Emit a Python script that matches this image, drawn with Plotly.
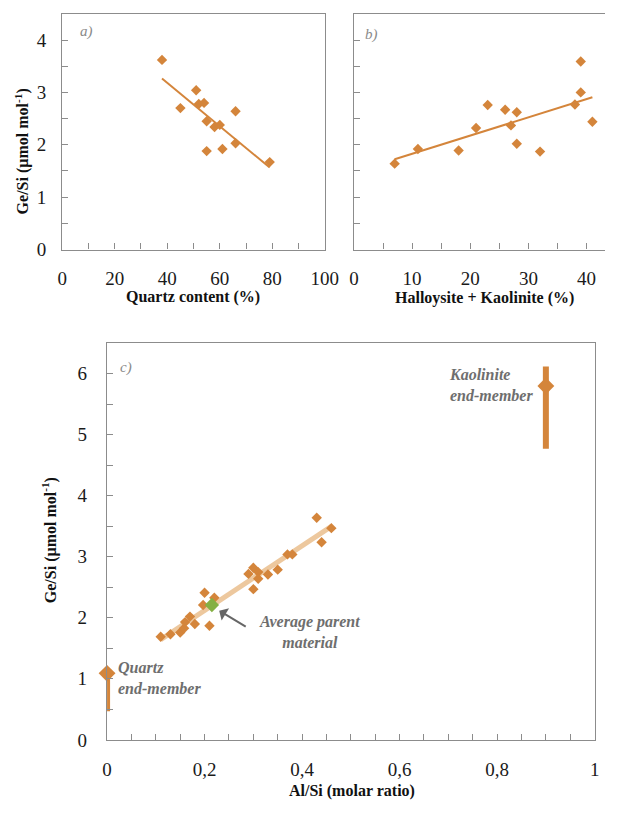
import numpy as np
import plotly.graph_objects as go

# ---------------- data ----------------
quartz_pct = [38, 45, 51, 52, 54, 55, 55, 58, 60, 61, 66, 66, 79]
gesi_a = [3.62, 2.70, 3.04, 2.78, 2.80, 2.45, 1.88, 2.34, 2.38, 1.92, 2.64, 2.03, 1.67]

hk_pct = [7, 11, 18, 21, 23, 26, 27, 28, 28, 32, 38, 39, 39, 41]
gesi_b = [1.64, 1.92, 1.89, 2.32, 2.76, 2.67, 2.37, 2.62, 2.02, 1.87, 2.77, 3.59, 3.00, 2.44]

alsi = [0.11, 0.13, 0.15, 0.158, 0.16, 0.17, 0.18, 0.20, 0.197, 0.21, 0.22,
        0.29, 0.30, 0.30, 0.31, 0.31, 0.33, 0.35, 0.37, 0.38, 0.43, 0.44, 0.46]
gesi_c = [1.69, 1.73, 1.76, 1.83, 1.93, 2.02, 1.90, 2.41, 2.21, 1.87, 2.33,
          2.72, 2.82, 2.47, 2.75, 2.64, 2.71, 2.79, 3.04, 3.04, 3.64, 3.24, 3.47]

parent_alsi = [0.215]
parent_gesi = [2.21]

endmember_alsi = [0.0, 0.9]
endmember_gesi = [1.09, 5.80]
endmember_plus = [0.0, 0.32]
endmember_minus = [0.62, 1.03]

ORANGE = "#D4853B"
GREEN = "#84B043"
TAN = "#EDC89E"
AXC = "#8C8C8C"
SERIF = "Liberation Serif"

W, H = 619, 813


def px_x(a, b):
    return [a / W, b / W]


def px_y(top, bottom):
    return [1 - bottom / H, 1 - top / H]


def fit_line(x, y):
    x = np.asarray(x, float)
    y = np.asarray(y, float)
    k, b = np.polyfit(x, y, 1)
    xs = np.array([x.min(), x.max()])
    return xs, k * xs + b


fig = go.Figure()

# panel a
fig.add_trace(go.Scatter(x=quartz_pct, y=gesi_a, mode="markers",
                         marker=dict(symbol="diamond", size=8, color=ORANGE),
                         xaxis="x", yaxis="y"))
lx, ly = fit_line(quartz_pct, gesi_a)
fig.add_trace(go.Scatter(x=lx, y=ly, mode="lines", line=dict(color=ORANGE, width=2),
                         xaxis="x", yaxis="y"))

# panel b
fig.add_trace(go.Scatter(x=hk_pct, y=gesi_b, mode="markers",
                         marker=dict(symbol="diamond", size=8, color=ORANGE),
                         xaxis="x2", yaxis="y2"))
lx, ly = fit_line(hk_pct, gesi_b)
fig.add_trace(go.Scatter(x=lx, y=ly, mode="lines", line=dict(color=ORANGE, width=2),
                         xaxis="x2", yaxis="y2"))

# panel c
lx, ly = fit_line(alsi, gesi_c)
fig.add_trace(go.Scatter(x=lx, y=ly, mode="lines", line=dict(color=TAN, width=5),
                         xaxis="x3", yaxis="y3"))
fig.add_trace(go.Scatter(x=alsi, y=gesi_c, mode="markers",
                         marker=dict(symbol="diamond", size=8, color=ORANGE),
                         xaxis="x3", yaxis="y3"))
fig.add_trace(go.Scatter(x=parent_alsi, y=parent_gesi, mode="markers",
                         marker=dict(symbol="diamond", size=11, color=GREEN),
                         xaxis="x3", yaxis="y3"))
fig.add_trace(go.Scatter(x=endmember_alsi, y=endmember_gesi, mode="markers",
                         marker=dict(symbol="diamond", size=13, color=ORANGE),
                         error_y=dict(type="data", symmetric=False, array=endmember_plus,
                                      arrayminus=endmember_minus, color=ORANGE,
                                      thickness=6, width=0),
                         cliponaxis=False,
                         xaxis="x3", yaxis="y3"))

tickfont = dict(family=SERIF, size=19, color="#1a1a1a")


def axis_style(**kw):
    d = dict(showline=True, linecolor=AXC, linewidth=1.3, mirror=True,
             ticks="inside", ticklen=6, tickcolor=AXC, tickwidth=1.2,
             showgrid=False, zeroline=False, tickfont=tickfont)
    d.update(kw)
    return d


fig.update_layout(
    width=W, height=H,
    margin=dict(l=0, r=0, t=0, b=0),
    paper_bgcolor="white", plot_bgcolor="white",
    showlegend=False,
    separators=", ",
    font=dict(family=SERIF),
    xaxis=axis_style(domain=px_x(59, 330), range=[0, 100], dtick=20,
                     minor=dict(dtick=10, ticks="inside", ticklen=6, tickcolor=AXC),
                     ticklabelstandoff=11, anchor="y"),
    yaxis=axis_style(domain=px_y(14, 253), range=[0, 4.5], dtick=1,
                     minor=dict(dtick=0.5, ticks="inside", ticklen=6, tickcolor=AXC),
                     ticklabelstandoff=11, anchor="x"),
    xaxis2=axis_style(domain=px_x(360, 619), range=[0, 43.17], dtick=10,
                      minor=dict(dtick=5, ticks="inside", ticklen=6, tickcolor=AXC),
                      ticklabelstandoff=11, anchor="y2"),
    yaxis2=axis_style(domain=px_y(14, 253), range=[0, 4.5], dtick=1, mirror=False,
                      showticklabels=False,
                      minor=dict(dtick=0.5, ticks="inside", ticklen=6, tickcolor=AXC),
                      anchor="x2"),
    xaxis3=axis_style(domain=px_x(105.3, 608.3), range=[0, 1], dtick=0.2,
                      minor=dict(dtick=0.05, ticks="inside", ticklen=6, tickcolor=AXC),
                      ticklabelstandoff=12, anchor="y3"),
    yaxis3=axis_style(domain=px_y(348, 750), range=[0, 6.5], dtick=1,
                      minor=dict(dtick=0.5, ticks="inside", ticklen=6, tickcolor=AXC),
                      ticklabelstandoff=15, anchor="x3"),
)

title_font = dict(family=SERIF, size=16, color="#111")
note_font = dict(family=SERIF, size=16, color="#6e6e6e")


def pap(xp, yp):
    return xp / W, 1 - yp / H


anns = []
# axis titles
for txt, xp, yp, ang in [
    ("<b>Ge/Si (µmol mol<sup>-1</sup>)</b>", 18, 153, -90),
    ("<b>Ge/Si (µmol mol<sup>-1</sup>)</b>", 46, 548, -90),
    ("<b>Quartz content (%)</b>", 194, 301, 0),
    ("<b>Halloysite + Kaolinite (%)</b>", 495, 302, 0),
    ("<b>Al/Si (molar ratio)</b>", 358, 802, 0),
]:
    x, y = pap(xp, yp)
    anns.append(dict(text=txt, x=x, y=y, xref="paper", yref="paper", showarrow=False,
                     textangle=ang, font=title_font, xanchor="center", yanchor="middle"))

# panel labels
for txt, xp, yp in [("a)", 84, 32), ("b)", 378, 35), ("c)", 125, 373)]:
    x, y = pap(xp, yp)
    anns.append(dict(text="<i>" + txt + "</i>", x=x, y=y, xref="paper", yref="paper",
                     showarrow=False, font=dict(family=SERIF, size=15, color="#8a8a8a"),
                     xanchor="center", yanchor="middle"))

# end-member notes
x, y = pap(456, 390)
anns.append(dict(text="<b><i>Kaolinite<br>end-member</i></b>", x=x, y=y, xref="paper",
                 yref="paper", showarrow=False, font=note_font, align="left",
                 xanchor="left", yanchor="middle"))
x, y = pap(114, 687)
anns.append(dict(text="<b><i>Quartz<br>end-member</i></b>", x=x, y=y, xref="paper",
                 yref="paper", showarrow=False, font=note_font, align="left",
                 xanchor="left", yanchor="middle"))
x, y = pap(314, 641)
anns.append(dict(text="<b><i>Average parent<br>material</i></b>", x=x, y=y, xref="paper",
                 yref="paper", showarrow=False, font=note_font, align="center",
                 xanchor="center", yanchor="middle"))
# arrow to parent material
x, y = pap(221, 619)
anns.append(dict(text="", x=x, y=y, xref="paper", yref="paper", showarrow=True,
                 ax=28, ay=17, axref="pixel", ayref="pixel",
                 arrowhead=1, arrowsize=1.2, arrowwidth=2, arrowcolor="#666666"))

fig.update_layout(annotations=anns)

fig.write_html(
    "out.html",
    config={"displayModeBar": False, "responsive": False},
    post_script="document.body.style.margin='0';document.body.style.overflow='hidden';",
)
